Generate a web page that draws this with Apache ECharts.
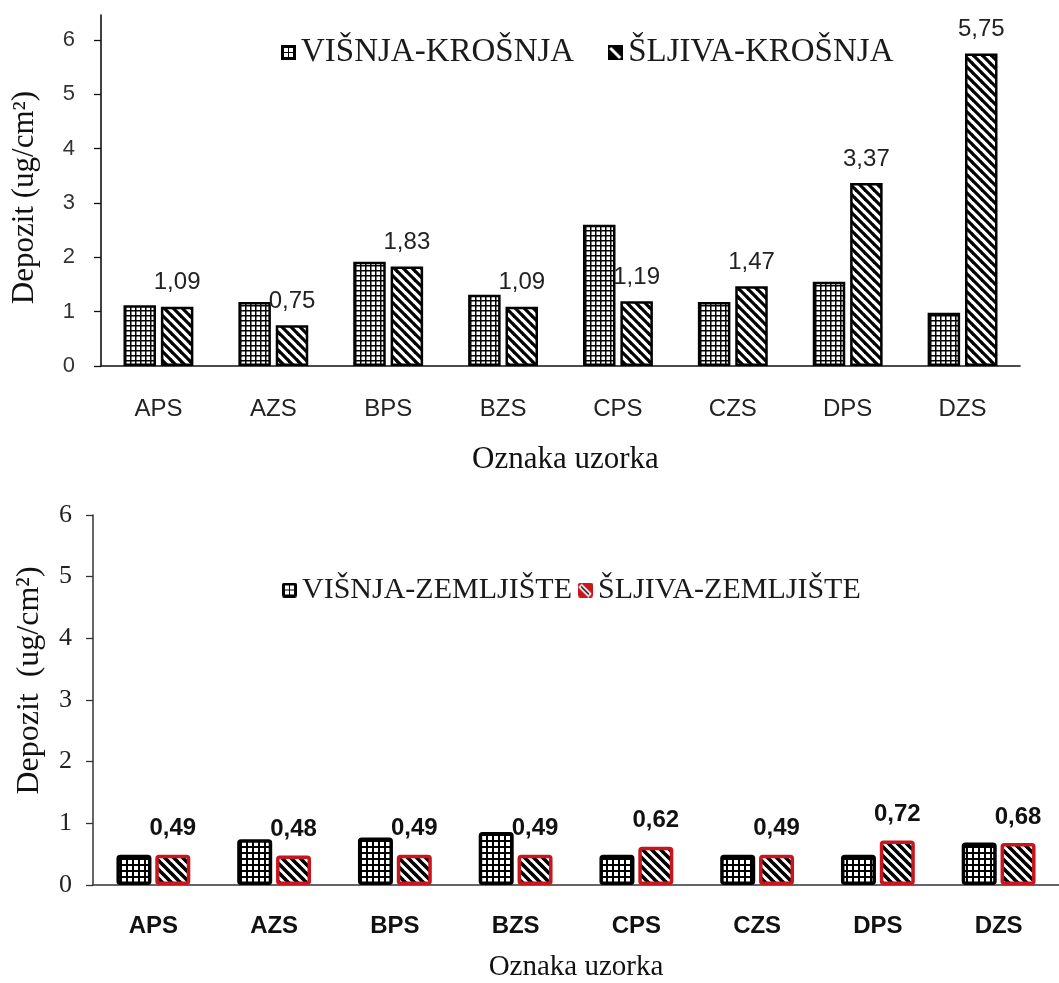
<!DOCTYPE html>
<html>
<head>
<meta charset="utf-8">
<script src="https://cdn.jsdelivr.net/npm/echarts@6/dist/echarts.min.js"></script>
<style>
html,body{margin:0;padding:0;background:#fff;}
#chart{width:1059px;height:983px;}
</style>
</head>
<body>
<div id="chart"></div>
<script>
// ---- data ----
const categories = ['APS', 'AZS', 'BPS', 'BZS', 'CPS', 'CZS', 'DPS', 'DZS'];
const visnjaKrosnja = [1.12, 1.18, 1.92, 1.31, 2.60, 1.18, 1.55, 0.98];
const sljivaKrosnja = [1.09, 0.75, 1.83, 1.09, 1.19, 1.47, 3.37, 5.75];
const visnjaZemljiste = [0.49, 0.74, 0.77, 0.86, 0.49, 0.49, 0.49, 0.69];
const sljivaZemljiste = [0.49, 0.48, 0.49, 0.49, 0.62, 0.49, 0.72, 0.68];
const yTickValues = [0, 1, 2, 3, 4, 5, 6];
const names = {
  vk: 'VIŠNJA-KROŠNJA', sk: 'ŠLJIVA-KROŠNJA',
  vz: 'VIŠNJA-ZEMLJIŠTE', sz: 'ŠLJIVA-ZEMLJIŠTE'
};

// ---- patterns ----
function mk(w, h) { const c = document.createElement('canvas'); c.width = w; c.height = h; return c; }
function gridPattern(size, lw) {
  const c = mk(size, size), g = c.getContext('2d');
  g.fillStyle = '#fff'; g.fillRect(0, 0, size, size);
  g.fillStyle = '#000'; g.fillRect(0, 0, size, lw); g.fillRect(0, 0, lw, size);
  return c;
}
function stripePattern(size, lw) {
  const c = mk(size, size), g = c.getContext('2d');
  g.fillStyle = '#fff'; g.fillRect(0, 0, size, size);
  g.strokeStyle = '#000'; g.lineWidth = lw;
  for (let k = -1; k <= 1; k++) {
    g.beginPath(); g.moveTo(-1, k * size - 1); g.lineTo(size + 1, size + k * size + 1); g.stroke();
  }
  return c;
}
function roundRect(g, x, y, w, h, r) {
  g.beginPath(); g.moveTo(x + r, y); g.lineTo(x + w - r, y); g.quadraticCurveTo(x + w, y, x + w, y + r);
  g.lineTo(x + w, y + h - r); g.quadraticCurveTo(x + w, y + h, x + w - r, y + h);
  g.lineTo(x + r, y + h); g.quadraticCurveTo(x, y + h, x, y + h - r);
  g.lineTo(x, y + r); g.quadraticCurveTo(x, y, x + r, y); g.closePath();
}
function iconGrid(rounded) {
  const c = mk(15, 15), g = c.getContext('2d');
  g.fillStyle = '#000';
  if (rounded) { roundRect(g, 0, 0, 15, 15, 2.5); g.fill(); } else g.fillRect(0, 0, 15, 15);
  g.fillStyle = '#fff';
  [[3, 3], [8, 3], [3, 8], [8, 8]].forEach(p => g.fillRect(p[0], p[1], 4, 4));
  return 'image://' + c.toDataURL();
}
function iconStripe(red) {
  const c = mk(15, 15), g = c.getContext('2d');
  g.fillStyle = red ? '#c8161e' : '#000';
  if (red) { roundRect(g, 0, 0, 15, 15, 2.5); g.fill(); } else g.fillRect(0, 0, 15, 15);
  g.strokeStyle = '#fff'; g.lineWidth = red ? 5 : 3;
  g.beginPath(); g.moveTo(2, 3); g.lineTo(12, 13); g.stroke();
  if (red) { g.strokeStyle = '#000'; g.lineWidth = 1.5; g.beginPath(); g.moveTo(3, 4); g.lineTo(11, 12); g.stroke(); }
  return 'image://' + c.toDataURL();
}

const pGridTop = { image: gridPattern(5, 1.5), repeat: 'repeat' };
const pStripeTop = { image: stripePattern(9, 3.2), repeat: 'repeat' };
const pGridBot = { image: gridPattern(6, 2), repeat: 'repeat' };
const pStripeBot = { image: stripePattern(9, 3.6), repeat: 'repeat' };

const fmt = p => p.value.toFixed(2).replace('.', ',');
const serif = 'Liberation Serif';
const sans = 'Liberation Sans';

const chart = echarts.init(document.getElementById('chart'), null, { renderer: 'canvas' });
chart.setOption({
  animation: false,
  backgroundColor: '#fff',
  legend: [
    {
      left: 281, top: 36, padding: 0, itemWidth: 15, itemHeight: 15, itemGap: 34,
      selectedMode: false,
      textStyle: { fontFamily: serif, fontSize: 33, color: '#1a1a1a' },
      data: [{ name: names.vk, icon: iconGrid(false) }, { name: names.sk, icon: iconStripe(false) }]
    },
    {
      left: 282, top: 575, padding: 0, itemWidth: 15, itemHeight: 15, itemGap: 6,
      selectedMode: false,
      textStyle: { fontFamily: serif, fontSize: 30, color: '#1a1a1a' },
      data: [{ name: names.vz, icon: iconGrid(true) }, { name: names.sz, icon: iconStripe(true) }]
    }
  ],
  grid: [
    { left: 101, right: 39, top: 15, bottom: 617, containLabel: false },
    { left: 93, right: -8, top: 515, bottom: 91, containLabel: false }
  ],
  xAxis: [
    {
      gridIndex: 0, type: 'category', data: categories,
      axisLine: { lineStyle: { color: '#111', width: 1.6 } },
      axisTick: { length: 7, lineStyle: { color: '#111', width: 1.3 } },
      axisLabel: { margin: 31, fontFamily: sans, fontSize: 24, color: '#222' },
      name: 'Oznaka uzorka', nameLocation: 'middle', nameGap: 78,
      nameTextStyle: { fontFamily: serif, fontSize: 31, color: '#111', padding: [0, 0, 0, 10] }
    },
    {
      gridIndex: 1, type: 'category', data: categories,
      axisLine: { lineStyle: { color: '#333', width: 1.5 } },
      axisTick: { length: 7, lineStyle: { color: '#333', width: 1.3 } },
      axisLabel: { margin: 29, fontFamily: sans, fontSize: 24, color: '#111', fontWeight: 'bold' },
      name: 'Oznaka uzorka', nameLocation: 'middle', nameGap: 68,
      nameTextStyle: { fontFamily: serif, fontSize: 29, color: '#111' }
    }
  ],
  yAxis: [
    {
      gridIndex: 0, type: 'value', min: 0, max: 6.46, interval: 1,
      splitLine: { show: false },
      axisLine: { show: true, lineStyle: { color: '#111', width: 1.6 } },
      axisTick: { show: true, length: 7, customValues: yTickValues, lineStyle: { color: '#111', width: 1.3 } },
      axisLabel: {
        margin: 26, fontFamily: sans, fontSize: 22, color: '#333', customValues: yTickValues,
        formatter: v => (Number.isInteger(v) ? String(v) : '')
      },
      name: 'Depozit (ug/cm²)', nameLocation: 'middle', nameGap: 61, nameRotate: 90,
      nameTextStyle: { fontFamily: serif, fontSize: 31, color: '#111', padding: [0, 14, 0, 0] }
    },
    {
      gridIndex: 1, type: 'value', min: 0, max: 6, interval: 1,
      splitLine: { show: false },
      axisLine: { show: true, lineStyle: { color: '#333', width: 1.5 } },
      axisTick: { show: true, length: 7, lineStyle: { color: '#333', width: 1.3 } },
      axisLabel: { margin: 21, fontFamily: serif, fontSize: 26, color: '#222' },
      name: 'Depozit  (ug/cm²)', nameLocation: 'middle', nameGap: 47, nameRotate: 90,
      nameTextStyle: { fontFamily: serif, fontSize: 32, color: '#111', padding: [0, 0, 0, 39] }
    }
  ],
  series: [
    {
      name: names.vk, type: 'bar', xAxisIndex: 0, yAxisIndex: 0, data: visnjaKrosnja,
      barWidth: 32.5, barGap: '15%',
      itemStyle: { color: pGridTop, borderColor: '#000', borderWidth: 2.5 }
    },
    {
      name: names.sk, type: 'bar', xAxisIndex: 0, yAxisIndex: 0, data: sljivaKrosnja,
      barWidth: 32.5, barGap: '15%',
      itemStyle: { color: pStripeTop, borderColor: '#000', borderWidth: 2.5 },
      label: { show: true, position: 'top', distance: 12, formatter: fmt,
        fontFamily: sans, fontSize: 24, color: '#222' }
    },
    {
      name: names.vz, type: 'bar', xAxisIndex: 1, yAxisIndex: 1, data: visnjaZemljiste,
      barWidth: 35, barGap: '11%',
      itemStyle: { color: pGridBot, borderColor: '#000', borderWidth: 3.5, borderRadius: 2 }
    },
    {
      name: names.sz, type: 'bar', xAxisIndex: 1, yAxisIndex: 1, data: sljivaZemljiste,
      barWidth: 35, barGap: '11%',
      itemStyle: { color: pStripeBot, borderColor: '#c8161e', borderWidth: 3.5, borderRadius: 2 },
      label: { show: true, position: 'top', distance: 14, formatter: fmt,
        fontFamily: sans, fontSize: 24, color: '#111', fontWeight: 'bold' }
    }
  ]
});
</script>
</body>
</html>
